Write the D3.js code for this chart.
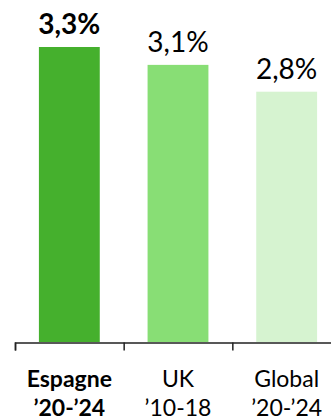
<!DOCTYPE html>
<html>
<head>
<meta charset="utf-8">
<script src="https://cdn.jsdelivr.net/npm/d3@7"></script>
<style>
  html, body { margin: 0; padding: 0; background: #fff; }
  svg { display: block; font-family: Lato, "Open Sans", sans-serif; }
</style>
</head>
<body>
<svg id="chart" width="331" height="420"></svg>
<script>
// values
const categories = ["Espagne", "UK", "Global"];
const periods = ["\u201920-\u201924", "\u201910-18", "\u201920-\u201924"];
const values = [3.3, 3.1, 2.8];
const valueLabels = ["3,3%", "3,1%", "2,8%"];
const colors = ["#45b02d", "#88de75", "#d6f3d0"];

const width = 331, height = 420;
const margin = { top: 47, left: 15, right: -10, bottom: 78 };
const baseY = height - margin.bottom; // 342

const svg = d3.select("#chart");

const x = d3.scaleBand()
  .domain(categories)
  .range([margin.left, width - margin.right])
  .paddingInner(0.44)
  .paddingOuter(0.22);

const y = d3.scaleLinear()
  .domain([0, 3.3])
  .range([baseY, margin.top]);

// bars
svg.append("g")
  .selectAll("rect")
  .data(values)
  .join("rect")
  .attr("x", (d, i) => x(categories[i]))
  .attr("width", x.bandwidth())
  .attr("y", d => y(d))
  .attr("height", d => y(0) - y(d))
  .attr("fill", (d, i) => colors[i]);

// value labels
svg.append("g")
  .selectAll("text")
  .data(values)
  .join("text")
  .attr("x", (d, i) => x(categories[i]) + x.bandwidth() / 2)
  .attr("y", d => y(d) - 13)
  .attr("text-anchor", "middle")
  .style("font-size", "28px")
  .style("font-weight", (d, i) => i === 0 ? "bold" : "normal")
  .attr("fill", "#000")
  .text((d, i) => valueLabels[i]);

// axis with ticks between categories
const edges = d3.scaleLinear()
  .domain([0, categories.length])
  .range([margin.left, width - margin.right]);

svg.append("g")
  .attr("transform", `translate(0,${baseY + 0.5})`)
  .call(d3.axisBottom(edges).tickValues(d3.range(categories.length + 1)).tickSize(8).tickSizeOuter(8).tickFormat(""))
  .call(g => g.selectAll("path, line").attr("stroke", "#222").attr("stroke-width", 1.5));

// category labels
const lab = svg.append("g")
  .selectAll("text")
  .data(categories)
  .join("text")
  .attr("text-anchor", "middle")
  .attr("fill", "#000")
  .style("font-size", "23px")
  .style("font-weight", (d, i) => i === 0 ? "bold" : "normal");

lab.append("tspan")
  .attr("x", d => x(d) + x.bandwidth() / 2)
  .attr("y", 387)
  .text(d => d);

lab.append("tspan")
  .attr("x", d => x(d) + x.bandwidth() / 2)
  .attr("y", 416)
  .text((d, i) => periods[i]);
</script>
</body>
</html>
